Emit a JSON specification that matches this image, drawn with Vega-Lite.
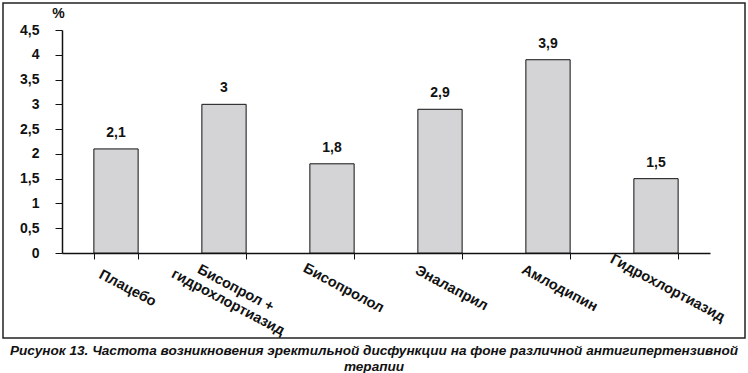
{
  "$schema": "https://vega.github.io/schema/vega-lite/v6.json",
  "width": 742,
  "height": 335,
  "autosize": {"type": "none"},
  "padding": {"left": 3, "top": 3, "right": 3, "bottom": 35},
  "background": "white",
  "data": {
    "values": [
      {"drug": "Плацебо", "value": 2.1},
      {"drug": "Бисопрол + гидрохлортиазид", "value": 3.0},
      {"drug": "Бисопролол", "value": 1.8},
      {"drug": "Эналаприл", "value": 2.9},
      {"drug": "Амлодипин", "value": 3.9},
      {"drug": "Гидрохлортиазид", "value": 1.5}
    ]
  },
  "title": {
    "text": ["Рисунок 13. Частота возникновения эректильной дисфункции на фоне различной антигипертензивной", "терапии"],
    "orient": "bottom",
    "anchor": "middle",
    "frame": "group",
    "fontSize": 13.6,
    "fontStyle": "italic",
    "fontWeight": "bold",
    "color": "#111",
    "offset": 6,
    "lineHeight": 15.5,
    "baseline": "top"
  },
  "config": {
    "font": "Liberation Sans",
    "view": {"stroke": "#222", "strokeWidth": 1.5},
    "locale": {"number": {"decimal": ",", "thousands": " ", "grouping": [3], "currency": ["", ""]}}
  },
  "encoding": {
    "x": {
      "field": "drug",
      "type": "nominal",
      "sort": null,
      "scale": {"range": [59, 707], "paddingInner": 0.59, "paddingOuter": 0.295},
      "axis": {
        "orient": "bottom",
        "offset": -85,
        "title": null,
        "tickBand": "extent",
        "tickSize": 6,
        "tickColor": "#111",
        "domainColor": "#111",
        "domainWidth": 1.5,
        "labelAngle": 28,
        "labelAlign": "center",
        "labelBaseline": "middle",
        "labelPadding": 29,
        "labelOffset": 11,
        "labelFontSize": 14.5,
        "labelFontWeight": "bold",
        "labelColor": "#111",
        "labelOverlap": false,
        "labelBound": false,
        "labelLimit": 300,
        "labelLineHeight": 16,
        "labelExpr": "datum.label == 'Бисопрол + гидрохлортиазид' ? ['Бисопрол +', 'гидрохлортиазид'] : datum.label"
      }
    },
    "y": {
      "field": "value",
      "type": "quantitative",
      "scale": {"domain": [0, 4.5], "range": [250, 27], "nice": false, "zero": true},
      "axis": {
        "orient": "left",
        "offset": -59,
        "values": [0, 0.5, 1, 1.5, 2, 2.5, 3, 3.5, 4, 4.5],
        "format": ".1~f",
        "grid": false,
        "title": "%",
        "titleAngle": 0,
        "titleX": -4,
        "titleY": 10,
        "titleAlign": "center",
        "titleBaseline": "middle",
        "titleFontSize": 14,
        "titleFontWeight": "bold",
        "titleColor": "#111",
        "tickSize": 7,
        "tickColor": "#111",
        "domainColor": "#111",
        "domainWidth": 1.5,
        "labelPadding": 16,
        "labelFontSize": 14,
        "labelFontWeight": "bold",
        "labelColor": "#111"
      }
    }
  },
  "layer": [
    {"mark": {"type": "bar", "fill": "#d4d4d6", "stroke": "#111", "strokeWidth": 1}},
    {
      "mark": {"type": "text", "baseline": "bottom", "dy": -9, "fontSize": 14, "fontWeight": "bold", "color": "#111"},
      "encoding": {"text": {"field": "value", "type": "quantitative", "format": ".1~f"}}
    }
  ]
}
